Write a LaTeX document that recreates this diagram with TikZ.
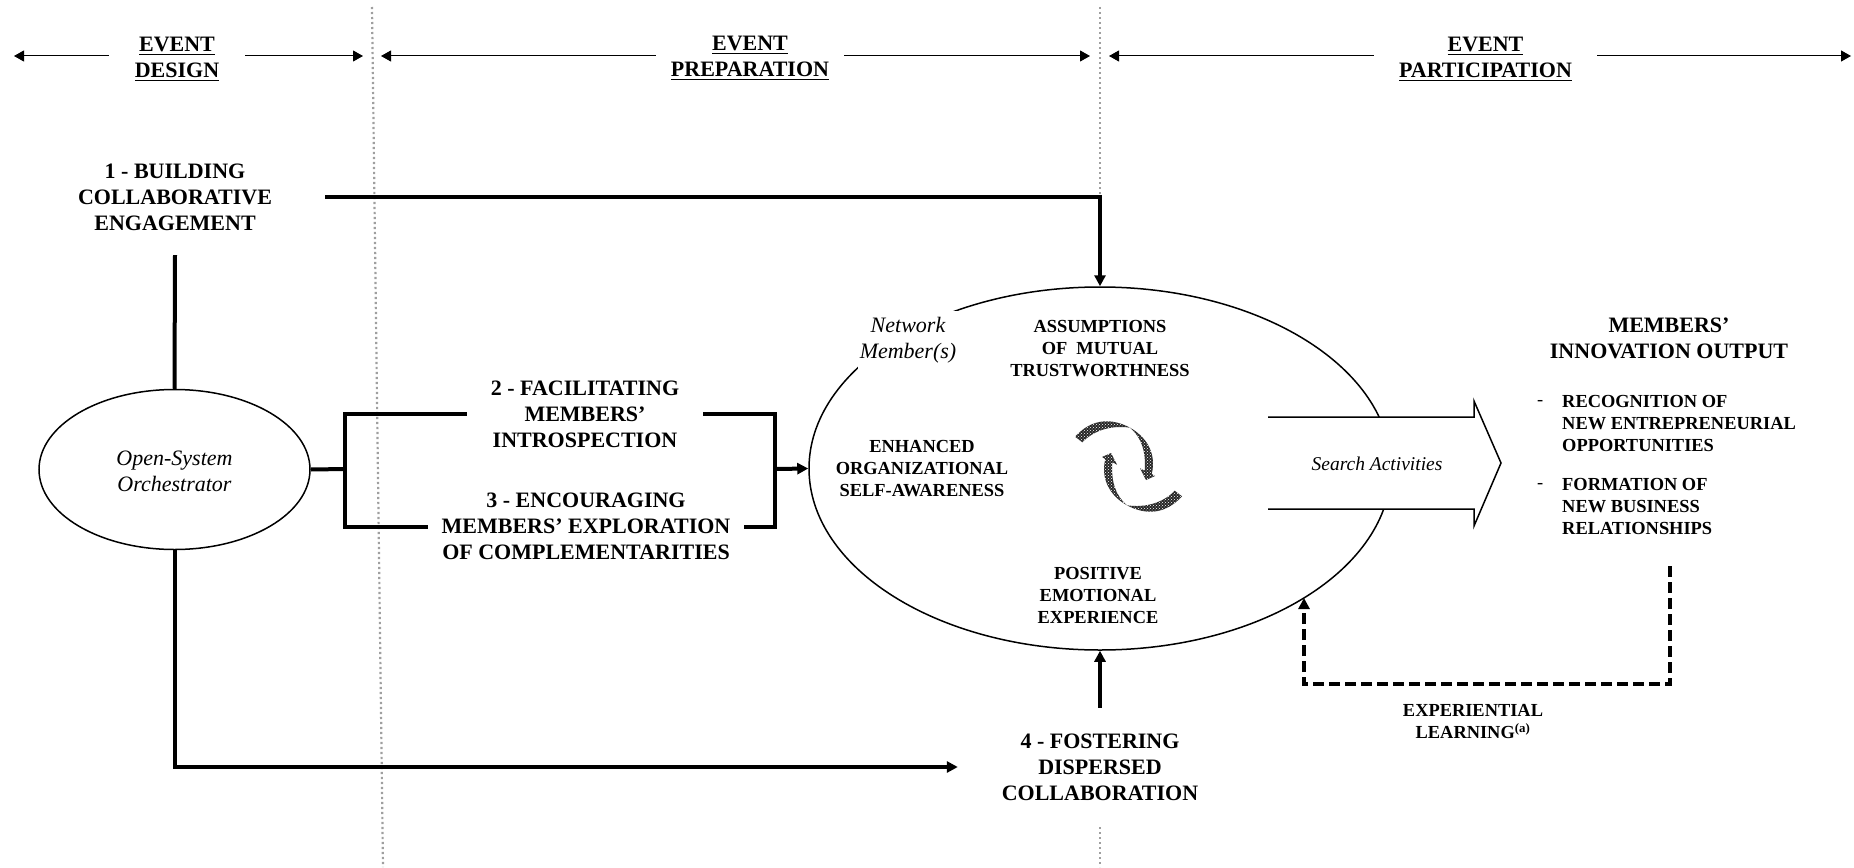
\documentclass[tikz,border=0pt]{standalone}
\usepackage{fontspec}
\setmainfont{Liberation Serif}
\usetikzlibrary{arrows.meta,patterns,shapes.geometric}
\newcommand{\headword}[1]{\setbox0=\hbox{#1}\rlap{\rule[-4pt]{\wd0}{1.7pt}}\box0}
\begin{document}
\begin{tikzpicture}[x=1pt, y=-1pt,
    bigtext/.style={font=\fontsize{22}{26}\selectfont\bfseries, align=center, inner sep=0pt},
    smalltext/.style={font=\fontsize{18.4}{22}\selectfont\bfseries, align=center, inner sep=0pt},
    listtext/.style={font=\fontsize{18.4}{22}\selectfont\bfseries, align=left, inner sep=0pt, anchor=west},
    slanted/.style={font=\fontsize{22}{26}\selectfont\itshape, align=center, inner sep=0pt},
    headerline/.style={line width=1pt, -{Triangle[length=10pt,width=11pt]}},
    flow/.style={line width=4pt, line cap=butt},
    flowtip/.style={flow, -{Triangle[length=11pt,width=11pt]}},
    divider/.style={gray!75, line width=2.2pt, dash pattern=on 2.2pt off 2.8pt},
    swirl/.style={preaction={fill=black!85}, pattern=crosshatch dots, pattern color=white}]
    \useasboundingbox (0,0) rectangle (1854,867);

    % phase dividers
    \coordinate (topa) at (372,7);
    \coordinate (bota) at (383,867);
    \coordinate (topb) at (1100,7);
    \coordinate (botb) at (1100,867);
    \draw[divider] (topa) -- (bota);
    \draw[divider] (topb) -- (botb);

    % phase headers
    \node[bigtext, minimum width=136pt] (design) at (177,59) {\headword{EVENT}\\\headword{DESIGN}};
    \node[bigtext, minimum width=188pt] (prep) at (750,58) {\headword{EVENT}\\\headword{PREPARATION}};
    \node[bigtext, minimum width=223pt] (part) at (1485.5,59) {\headword{EVENT}\\\headword{PARTICIPATION}};
    \coordinate (designl) at (14,56);
    \coordinate (designr) at (363,56);
    \coordinate (prepl) at (381,56);
    \coordinate (prepr) at (1090,56);
    \coordinate (partl) at (1109,56);
    \coordinate (partr) at (1851,56);
    \draw[headerline] (design.west |- designl) -- (designl);
    \draw[headerline] (design.east |- designr) -- (designr);
    \draw[headerline] (prep.west |- prepl) -- (prepl);
    \draw[headerline] (prep.east |- prepr) -- (prepr);
    \draw[headerline] (part.west |- partl) -- (partl);
    \draw[headerline] (part.east |- partr) -- (partr);

    % the two ellipses
    \node[draw, fill=white, ellipse, line width=1.5pt, minimum width=271pt, minimum height=160pt, inner sep=0pt] (orch) at (174.5,469.5) {};
    \node[slanted] (orchtext) at (174.5,471) {Open-System\\Orchestrator};
    \node[draw, fill=white, ellipse, line width=1.5pt, minimum width=582pt, minimum height=363pt, inner sep=0pt] (member) at (1100,468.5) {};
    \node[slanted, fill=white, minimum width=100pt, minimum height=59pt] (network) at (908,340) {Network\\Member(s)};

    % search arrow, open on its left side
    \fill[white] (1268,417) -- (1474,417) -- (1474,401) -- (1501,463) -- (1474,526) -- (1474,509) -- (1268,509) -- cycle;
    \draw[line width=1.5pt] (1268,417) -- (1474,417) -- (1474,401) -- (1501,463) -- (1474,526) -- (1474,509) -- (1268,509);
    \node[slanted, font=\fontsize{19.5}{24}\selectfont\itshape] (search) at (1377,464) {Search Activities};

    % mechanisms
    \node[bigtext, minimum width=300pt, minimum height=116pt] (build) at (175,197) {1 - BUILDING\\COLLABORATIVE\\ENGAGEMENT};
    \node[bigtext, minimum width=236pt] (facil) at (585,414) {2 - FACILITATING\\MEMBERS’\\INTROSPECTION};
    \node[bigtext, minimum width=316pt] (encour) at (586,526.5) {3 - ENCOURAGING\\MEMBERS’ EXPLORATION\\OF COMPLEMENTARITIES};
    \node[bigtext, fill=white, minimum width=284pt, minimum height=118pt] (foster) at (1100,767) {4 - FOSTERING\\DISPERSED\\COLLABORATION};

    \coordinate (split) at (345,469);
    \coordinate (join) at (775,469);
    \draw[flowtip] (build.east) -| (member.north);
    \draw[flow] (build.south) -- (orch.north);
    \draw[flow] (orch.east) -- (split);
    \draw[flow] (facil.west) -| (split);
    \draw[flow] (encour.west) -| (split);
    \draw[flow] (facil.east) -| (join);
    \draw[flow] (encour.east) -| (join);
    \draw[flowtip] (join) -- (member.west);
    \draw[flowtip] (orch.south) |- (foster.west);
    \draw[flowtip] (foster.north) -- (member.south);

    % inside the member ellipse
    \node[smalltext] (trust) at (1100,349) {ASSUMPTIONS\\OF~~MUTUAL\\TRUSTWORTHNESS};
    \node[smalltext] (aware) at (922,469) {ENHANCED\\ORGANIZATIONAL\\SELF-AWARENESS};
    \node[smalltext] (emotion) at (1098,595) {POSITIVE\\EMOTIONAL\\EXPERIENCE};

    % \r turns the second swirl half way round:
    \foreach \r in {0,180}
        \path[swirl, rotate around={\r:(1128.5,466.5)}] (1075,436.7)
            .. controls (1092,418) and (1112,418) .. (1130,427.7)
            .. controls (1145,436) and (1157,452) .. (1151.7,474)
            -- (1155,476) -- (1146,480) -- (1140,468.3) -- (1144.7,470.7)
            .. controls (1146,452) and (1142,438) .. (1130,427.7)
            .. controls (1112,425) and (1094,430) .. (1082.3,442.3) -- cycle;

    % output
    \node[bigtext] (output) at (1669,338.5) {MEMBERS’\\INNOVATION OUTPUT};
    \node[listtext, font=\fontsize{18.4}{22}\selectfont] (dasha) at (1537,403) {-};
    \node[listtext] (recog) at (1562,423) {RECOGNITION OF\\NEW ENTREPRENEURIAL\\OPPORTUNITIES};
    \node[listtext, font=\fontsize{18.4}{22}\selectfont] (dashb) at (1537,486) {-};
    \node[listtext] (form) at (1562,506) {FORMATION OF\\NEW BUSINESS\\RELATIONSHIPS};

    % learning loop
    \coordinate (loopa) at (1670,566);
    \coordinate (loopb) at (1304,598);
    \draw[flow, dash pattern=on 11pt off 5pt, -{Triangle[length=11pt,width=11pt]}] (loopa) -- (1670,684) -| (loopb);
    \node[smalltext] (learn) at (1473,722) {EXPERIENTIAL\\LEARNING\textsuperscript{(a)}};
\end{tikzpicture}
\end{document}
